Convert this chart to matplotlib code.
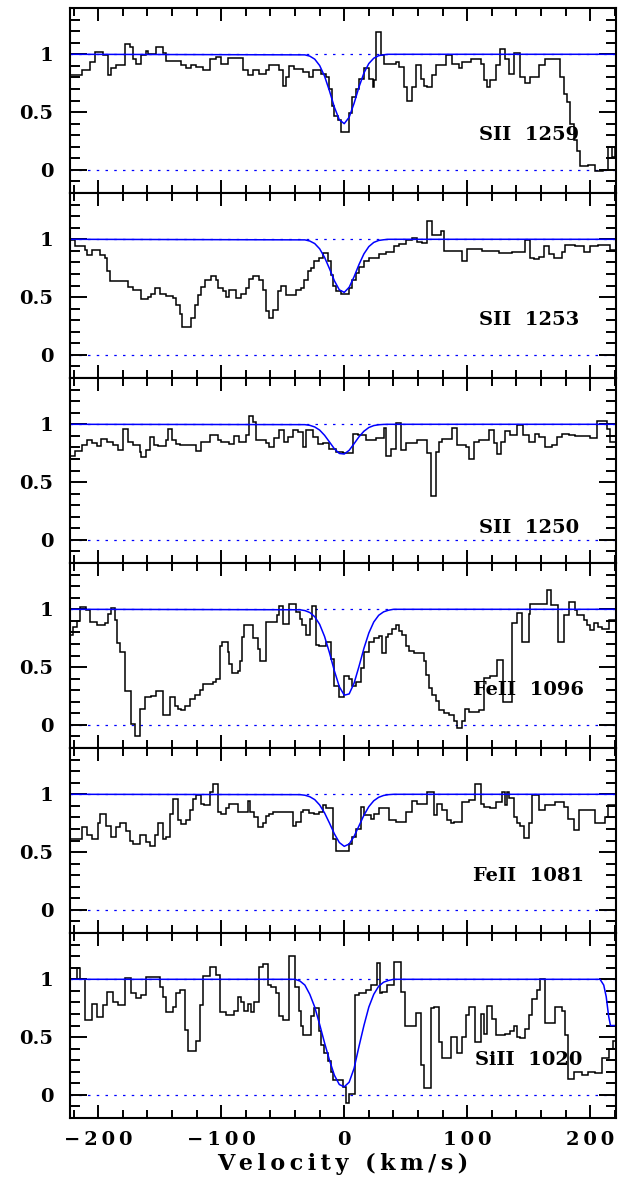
import matplotlib
matplotlib.use("Agg")
import matplotlib.pyplot as plt
from matplotlib.ticker import MultipleLocator, FuncFormatter

# ── Data ────────────────────────────────────────────────────
# step spectra: bin edges (km/s) and normalised flux per bin
labels = ["SII  1259", "SII  1253", "SII  1250", "FeII  1096", "FeII  1081", "SiII  1020"]
label_y = [0.30, 0.30, 0.10, 0.30, 0.29, 0.30]

v1 = [-223, -213.6, -206.8, -202.8, -196, -192, -189.3, -185.2, -178.5, -174.4, -171.7, -169, -165,
      -160.9, -159.5, -152.8, -147.4, -144.7, -132.5, -128.4, -124.4, -120.3, -115, -109.5, -104.1,
      -100.1, -94.7, -82.5, -78.4, -74.4, -69, -63.6, -60.9, -52.8, -50.1, -47.4, -44.7, -40.6, -33.9,
      -28.4, -25.7, -18.9, -14.9, -12.2, -10.3, -8.1, -5.4, -2.7, 3.5, 6.7, 9.4, 12.1, 16.2, 20.3, 23,
      24.3, 26.2, 29.7, 32.4, 41.9, 44.6, 48.6, 51.3, 55.4, 58.1, 62.1, 64.9, 67.6, 71.6, 74.3, 82.4,
      87.8, 93.2, 95.9, 102.7, 110.8, 113.5, 116.2, 118.9, 123, 127, 131.1, 133.8, 137.8, 143.2, 147.3,
      151.3, 158.1, 163.5, 175.7, 178.4, 181.1, 183.8, 186.5, 189.2, 191.9, 198.6, 204, 210.8, 214.8,
      217.6, 220, 222]
f1 = [0.82, 0.86, 0.93, 1.02, 0.99, 0.82, 0.88, 0.91, 1.09, 1.06, 0.96, 0.92, 0.99, 1.03, 1.00, 1.06,
      1.01, 0.94, 0.91, 0.88, 0.91, 0.89, 0.86, 0.96, 0.98, 0.92, 0.97, 0.86, 0.82, 0.86, 0.83, 0.86,
      0.91, 0.86, 0.73, 0.80, 0.90, 0.87, 0.85, 0.80, 0.86, 0.83, 0.80, 0.70, 0.55, 0.47, 0.43, 0.33,
      0.49, 0.63, 0.70, 0.79, 0.88, 0.79, 0.72, 0.78, 1.19, 0.99, 0.92, 0.93, 0.89, 0.72, 0.60, 0.72,
      0.91, 0.79, 0.73, 0.72, 0.82, 0.91, 0.99, 0.92, 0.88, 0.93, 0.96, 0.92, 0.78, 0.72, 0.78, 0.91,
      1.05, 0.96, 0.83, 1.01, 0.80, 0.75, 0.80, 0.91, 0.96, 0.80, 0.66, 0.59, 0.40, 0.26, 0.16, 0.03,
      0.04, -0.01, 0.00, 0.20, 0.11, 0.20]

v2 = [-223, -219, -210.9, -209, -204.7, -198.7, -194.7, -193.3, -190.6, -175.7, -171.7, -165, -159.5,
      -156.8, -154.1, -150.1, -144.7, -139.3, -136.6, -133.9, -131.7, -124.4, -121.7, -119, -116.3,
      -113.6, -108.2, -104.1, -102.8, -98.7, -96, -93.3, -87.9, -83.9, -79.8, -77.1, -74.4, -69, -66.3,
      -63.6, -60.9, -58.2, -54.1, -51.4, -47.4, -39.3, -35.2, -32.5, -29.8, -27.1, -24.3, -20.3, -17.6,
      -13.5, -10.8, -9.5, -6.8, -2.7, 3.5, 6.7, 9.4, 12.1, 16.2, 20.3, 28.4, 33.8, 40.5, 44.6, 50, 55.4,
      59.4, 63.5, 67.6, 71.6, 78.4, 81.1, 95.9, 100, 112.2, 125.7, 136.5, 147.3, 151.3, 154.1, 158.1,
      162.2, 166.2, 170.3, 177, 179.7, 187.8, 194.6, 200, 206.7, 216.2, 222]
f2 = [0.99, 0.94, 0.91, 0.86, 0.91, 0.86, 0.84, 0.73, 0.64, 0.59, 0.56, 0.48, 0.50, 0.53, 0.58, 0.53,
      0.51, 0.49, 0.43, 0.35, 0.24, 0.32, 0.43, 0.52, 0.59, 0.65, 0.68, 0.65, 0.58, 0.55, 0.50, 0.56,
      0.49, 0.53, 0.58, 0.66, 0.68, 0.65, 0.56, 0.38, 0.32, 0.39, 0.55, 0.60, 0.52, 0.56, 0.58, 0.65,
      0.73, 0.75, 0.81, 0.84, 0.88, 0.81, 0.69, 0.60, 0.55, 0.53, 0.58, 0.65, 0.71, 0.76, 0.81, 0.84,
      0.87, 0.89, 0.94, 0.96, 0.99, 1.01, 0.98, 0.97, 1.16, 1.04, 1.07, 0.90, 0.81, 0.92, 0.90, 0.88,
      0.89, 0.99, 0.84, 0.83, 0.85, 0.94, 0.87, 0.84, 0.89, 0.95, 0.94, 0.89, 0.94, 0.95, 0.91]

v3 = [-223, -219, -213.6, -209.5, -205.5, -201.4, -197.4, -193.3, -187.9, -183.9, -179.8, -175.7,
      -171.7, -166.3, -165, -160.9, -158.2, -155, -151.4, -144.7, -143.3, -139.8, -136.6, -133.9,
      -120.3, -116.3, -109.5, -102.8, -100.1, -93.3, -89.3, -85.2, -79.8, -77.6, -74.4, -71.7, -63.6,
      -60.9, -56.8, -52.8, -48.7, -46, -42, -37.9, -33.8, -31.1, -25.7, -21.6, -17.6, -12.2, -6.8, -1.4,
      7.3, 10.8, 17.6, 25.7, 32.4, 34.3, 37.8, 41.9, 45.9, 50, 59.4, 67.6, 70.3, 74.3, 77, 79.7, 87.8,
      91.9, 98.6, 101.3, 105.4, 109.4, 117.6, 121.6, 124.3, 127.8, 131.1, 135.1, 140.5, 145.1, 150,
      155.4, 158.1, 163.5, 168.9, 173, 177, 182.4, 187.8, 200, 205.4, 213.5, 216.2, 222]
f3 = [0.73, 0.77, 0.82, 0.86, 0.84, 0.81, 0.87, 0.85, 0.82, 0.78, 0.96, 0.85, 0.82, 0.76, 0.72, 0.78,
      0.89, 0.82, 0.81, 0.86, 0.96, 0.86, 0.83, 0.82, 0.77, 0.85, 0.91, 0.86, 0.85, 0.83, 0.90, 0.85,
      0.91, 1.07, 1.02, 0.86, 0.84, 0.80, 0.88, 0.95, 0.85, 0.89, 0.95, 0.93, 0.80, 0.95, 0.89, 0.83,
      0.84, 0.79, 0.76, 0.75, 0.92, 0.91, 0.86, 0.88, 0.97, 0.73, 0.79, 1.01, 0.78, 0.84, 0.86, 0.75,
      0.38, 0.76, 0.85, 0.87, 0.97, 0.82, 0.80, 0.70, 0.85, 0.86, 0.95, 0.84, 0.74, 0.85, 0.94, 0.91,
      0.99, 0.91, 0.85, 0.92, 0.89, 0.80, 0.82, 0.89, 0.92, 0.91, 0.90, 0.88, 1.03, 0.96, 0.85]

v4 = [-223, -220.3, -217.6, -214.9, -210.1, -206.8, -201.4, -194.7, -192, -189.3, -186.6, -184.7,
      -182.5, -178.5, -173, -170.3, -165.7, -162.2, -156.8, -152.8, -147.4, -142, -137.9, -135.2,
      -132.5, -129.8, -125.7, -121.7, -117.6, -114.9, -106.8, -104.1, -101.4, -99.3, -94.7, -93.3,
      -91.2, -86.6, -84.7, -83.1, -81.2, -74.4, -70.3, -68.5, -63.6, -54.9, -53.3, -49.5, -44.7, -39.3,
      -36, -34, -31.2, -28, -26.5, -23, -20.3, -14.9, -10.8, -8.1, -4.6, 0, 3.5, 6.7, 9.4, 13.5, 16.2,
      20.3, 24.3, 28.4, 31.1, 33.8, 35.9, 39.2, 41.9, 44.6, 47.3, 50, 52.7, 56.7, 64.9, 66.2, 68.9,
      71.6, 74.3, 77, 81.1, 85.1, 89.2, 91.9, 95.9, 97.8, 101.3, 109.4, 113.5, 118.9, 124.3, 128.9,
      136.5, 140.5, 144.6, 150, 151.3, 164.9, 168.4, 173.8, 178.4, 182.4, 187.3, 189.2, 194.6, 197.3,
      200, 202.7, 206.7, 209.4, 214.9, 222]
f4 = [0.78, 0.85, 0.90, 1.02, 0.99, 0.89, 0.86, 0.88, 0.96, 1.01, 0.91, 0.71, 0.63, 0.29, 0.01, -0.10,
      0.14, 0.24, 0.25, 0.29, 0.09, 0.24, 0.16, 0.14, 0.13, 0.16, 0.22, 0.26, 0.30, 0.35, 0.37, 0.40,
      0.68, 0.72, 0.63, 0.53, 0.45, 0.47, 0.55, 0.76, 0.86, 0.75, 0.66, 0.55, 0.89, 0.95, 1.03, 0.87,
      1.05, 0.98, 0.92, 0.86, 0.78, 0.92, 1.03, 0.69, 0.68, 0.72, 0.57, 0.34, 0.24, 0.42, 0.40, 0.34,
      0.37, 0.49, 0.63, 0.72, 0.75, 0.77, 0.62, 0.76, 0.79, 0.83, 0.86, 0.81, 0.78, 0.68, 0.64, 0.62,
      0.55, 0.43, 0.32, 0.26, 0.21, 0.13, 0.10, 0.09, 0.03, -0.03, 0.03, 0.14, 0.11, 0.13, 0.41, 0.42,
      0.56, 0.20, 0.88, 0.97, 0.72, 0.96, 1.05, 1.17, 1.04, 0.72, 0.95, 1.06, 0.99, 0.95, 0.91, 0.86,
      0.82, 0.88, 0.85, 0.83, 0.91]

v5 = [-223, -213.6, -209, -204.7, -200.1, -198.7, -193.9, -189.8, -185.7, -182, -177.6, -174.4,
      -171.7, -166.3, -160.9, -158.2, -154.1, -151.4, -147.4, -144.7, -141.4, -139.3, -135.2, -132.5,
      -128.4, -125.7, -123, -120.3, -116.3, -114.4, -109.5, -106.8, -102.8, -100.1, -96, -93.3, -86.6,
      -78.4, -76.6, -73.1, -70.3, -66.3, -63.6, -60.9, -58.2, -42, -39.3, -35.2, -33.8, -28.4, -24.3,
      -20.3, -17.6, -14.9, -9.5, -6.8, 4, 6.7, 9.4, 13.5, 16.2, 21.6, 24.3, 28.4, 36.5, 41.9, 50, 55.4,
      59.5, 67.6, 73, 75.7, 79.7, 83.8, 86.5, 89.2, 95.4, 101.4, 106.7, 110.8, 113.5, 118.9, 123, 128.4,
      130.5, 132.4, 134.3, 137.8, 140.5, 143.2, 145.9, 150.5, 152.7, 158.1, 163.5, 171.6, 178.4, 181.9,
      186.5, 190.5, 204, 212.1, 214.8, 222]
f5 = [0.61, 0.72, 0.65, 0.61, 0.75, 0.83, 0.73, 0.63, 0.72, 0.75, 0.68, 0.60, 0.57, 0.65, 0.59, 0.55,
      0.65, 0.75, 0.61, 0.63, 0.83, 0.96, 0.78, 0.74, 0.78, 0.86, 0.96, 0.99, 0.92, 0.91, 1.02, 1.09,
      0.85, 0.83, 0.88, 0.92, 0.85, 0.94, 0.85, 0.80, 0.72, 0.75, 0.81, 0.83, 0.85, 0.73, 0.76, 0.85,
      0.86, 0.84, 0.83, 0.85, 0.91, 0.88, 0.61, 0.51, 0.57, 0.63, 0.70, 0.89, 0.82, 0.79, 0.83, 0.88,
      0.78, 0.76, 0.85, 0.94, 0.92, 1.02, 0.82, 0.92, 0.86, 0.78, 0.75, 0.76, 0.93, 0.95, 1.09, 0.92,
      0.89, 0.88, 0.93, 1.02, 0.91, 1.02, 0.97, 0.80, 0.75, 0.73, 0.62, 0.75, 0.99, 0.86, 0.91, 0.93,
      0.89, 0.79, 0.69, 0.86, 0.75, 0.80, 0.91]

v6 = [-223, -217.6, -214.9, -210.9, -205.5, -200.9, -196, -192.8, -188.4, -183.9, -178.5, -173, -169,
      -165, -160.9, -150.1, -147.4, -144.7, -139.3, -136.6, -133.9, -129.8, -127.1, -120.3, -117.6,
      -114.9, -109.5, -104.1, -101.4, -96, -89.3, -86.6, -83.9, -81.2, -78.4, -75.7, -73, -69, -66.3,
      -62.2, -59.5, -55.5, -52.8, -50.1, -45.2, -39.8, -37.1, -35.2, -33.8, -27, -24.3, -20.3, -18.9,
      -16.2, -13.5, -10.8, -9.5, -1.4, 1.3, 4, 8.9, 11.6, 17.6, 21.6, 27, 28.9, 31.1, 35.1, 40.5, 45.9,
      49.4, 58.1, 62.1, 64.9, 70.3, 73, 77, 79.7, 86.5, 91.9, 95.9, 98.6, 101.3, 106.7, 110.8, 113.5,
      116.2, 120.3, 123, 131.1, 135.1, 137.8, 140.5, 143.2, 147.3, 150, 152.7, 156.8, 159.5, 163.5,
      171.6, 177, 179.7, 181.9, 186.5, 193.2, 198.6, 204, 209.4, 214.9, 218.9, 222]
f6 = [1.00, 1.10, 1.00, 0.65, 0.79, 0.67, 0.78, 0.89, 0.80, 0.78, 1.01, 0.88, 0.84, 0.86, 1.02, 0.93,
      0.85, 0.72, 0.76, 0.88, 0.91, 0.56, 0.38, 0.47, 0.78, 1.03, 1.11, 1.04, 0.72, 0.69, 0.73, 0.85,
      0.80, 0.73, 0.79, 0.72, 0.80, 1.11, 1.13, 0.95, 0.93, 0.88, 0.68, 0.65, 1.20, 0.93, 0.73, 0.60,
      0.52, 0.68, 0.75, 0.55, 0.43, 0.36, 0.29, 0.20, 0.13, 0.07, -0.07, 0.01, 0.86, 0.88, 0.91, 0.95,
      1.14, 0.88, 0.89, 0.95, 1.15, 0.89, 0.60, 0.71, 0.26, 0.06, 0.75, 0.76, 0.46, 0.32, 0.50, 0.36,
      0.50, 0.69, 0.76, 0.46, 0.70, 0.53, 0.77, 0.66, 0.52, 0.53, 0.55, 0.60, 0.50, 0.49, 0.57, 0.69,
      0.83, 0.91, 1.00, 0.62, 0.76, 0.73, 0.52, 0.14, 0.20, 0.17, 0.20, 0.19, 0.32, 0.40, 0.47]

# model fits (blue), velocity / flux
mv_a = [-223, -32, -28, -24, -20, -16, -12, -8, -4, 0, 4, 8, 12, 16, 20, 24, 28, 32, 36, 222]
mf1 = [1, 0.995, 0.984, 0.958, 0.903, 0.811, 0.683, 0.542, 0.434, 0.40, 0.456, 0.576, 0.717, 0.838,
       0.92, 0.966, 0.988, 0.996, 1, 1]
mf2 = [1, 0.995, 0.985, 0.963, 0.918, 0.844, 0.746, 0.641, 0.563, 0.541, 0.585, 0.676, 0.782, 0.874,
       0.937, 0.973, 0.99, 0.996, 1, 1]
mf3 = [1, 0.997, 0.991, 0.977, 0.95, 0.905, 0.847, 0.788, 0.748, 0.743, 0.775, 0.832, 0.892, 0.94,
       0.972, 0.989, 0.996, 0.999, 1, 1]
mv_b = [-223, -36, -32, -28, -24, -20, -16, -12, -8, -4, 0, 4, 8, 12, 16, 20, 24, 28, 32, 36, 40, 222]
mf4 = [1, 0.996, 0.989, 0.972, 0.936, 0.87, 0.765, 0.624, 0.467, 0.331, 0.257, 0.268, 0.361, 0.506,
       0.662, 0.795, 0.89, 0.948, 0.978, 0.992, 1, 1]
mf5 = [1, 0.997, 0.992, 0.979, 0.954, 0.908, 0.839, 0.751, 0.658, 0.583, 0.55, 0.57, 0.636, 0.727,
       0.819, 0.893, 0.944, 0.974, 0.99, 0.997, 1, 1]
mv6 = [-223, -40, -36, -32, -28, -24, -20, -16, -12, -8, -4, 0, 4, 8, 12, 16, 20, 24, 28, 32, 36, 40,
       208, 211, 213, 215, 216.5, 222]
mf6 = [1, 1.0, 0.985, 0.95, 0.87, 0.76, 0.61, 0.45, 0.30, 0.17, 0.09, 0.07, 0.11, 0.23, 0.42, 0.60,
       0.76, 0.87, 0.94, 0.975, 0.99, 1.0, 1.0, 0.95, 0.85, 0.68, 0.60, 0.60]

spectra = [(v1, f1), (v2, f2), (v3, f3), (v4, f4), (v5, f5), (v6, f6)]
models = [(mv_a, mf1), (mv_a, mf2), (mv_a, mf3), (mv_b, mf4), (mv_b, mf5), (mv6, mf6)]

# ── Figure ──────────────────────────────────────────────────
FONT = "DejaVu Serif"
BLUE = "#0000ff"
THIN = "\u2009"


def spaced(s):
    # wide letter spacing, like the plotting package's stroke font
    return THIN.join(s)


def xfmt(x, pos):
    return spaced(f"{x:g}".replace("-", "\u2212"))


fig, axes = plt.subplots(6, 1, sharex=True, figsize=(6.21, 11.83), dpi=100)
fig.subplots_adjust(left=0.1127, right=0.992, top=0.9932, bottom=0.0549, hspace=0)

for i, ax in enumerate(axes):
    v, f = spectra[i]
    mv, mf = models[i]
    ax.stairs(f, v, color="black", lw=1.1, baseline=None)
    ax.plot(mv, mf, color=BLUE, lw=1.1)
    for yy in (0, 1):
        ax.axhline(yy, color=BLUE, lw=0.9, ls=(0, (2, 5)), zorder=0)
    ax.text(150, label_y[i], labels[i], ha="center", va="center",
            fontsize=14, fontweight="bold", family=FONT)

    ax.set_xlim(-223, 221)
    ax.set_ylim(-0.2, 1.4)
    ax.xaxis.set_major_locator(MultipleLocator(100))
    ax.xaxis.set_minor_locator(MultipleLocator(20))
    ax.xaxis.set_major_formatter(FuncFormatter(xfmt))
    ax.yaxis.set_major_locator(MultipleLocator(0.5))
    ax.yaxis.set_minor_locator(MultipleLocator(0.1))
    ax.yaxis.set_major_formatter(FuncFormatter(lambda y, p: f"{y:g}"))
    ax.tick_params(which="both", direction="in", top=True, right=True, width=1.4)
    ax.tick_params(axis="x", which="major", length=9.5, pad=9)
    ax.tick_params(axis="x", which="minor", length=5.5)
    ax.tick_params(axis="y", which="major", length=12, pad=12)
    ax.tick_params(axis="y", which="minor", length=7.5)
    for s in ax.spines.values():
        s.set_linewidth(1.5)
    for lab in ax.get_xticklabels() + ax.get_yticklabels():
        lab.set_fontsize(14)
        lab.set_fontweight("bold")
        lab.set_family(FONT)

axes[-1].set_xlabel(spaced("Velocity (km/s)"), fontsize=16, fontweight="bold",
                    family=FONT, labelpad=3)

fig.savefig("out.png", dpi=100)
